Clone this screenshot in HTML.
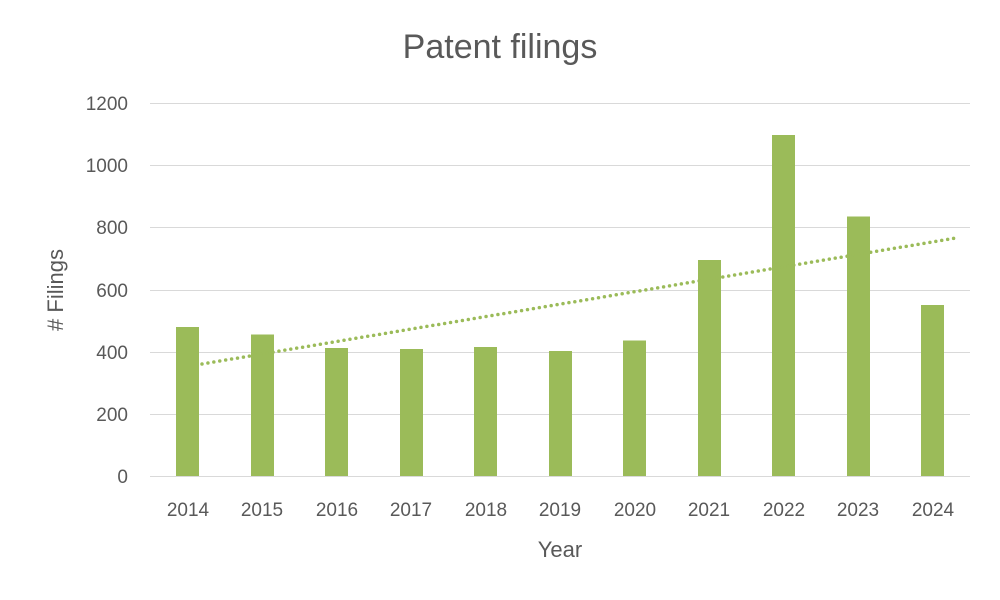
<!DOCTYPE html>
<html><head><meta charset="utf-8"><style>
html,body{margin:0;padding:0;background:#fff;}
svg{display:block;}
text{font-family:"Liberation Sans",sans-serif;fill:#595959;}
</style></head><body>
<svg width="1000" height="600" viewBox="0 0 1000 600" xmlns="http://www.w3.org/2000/svg">
<rect width="1000" height="600" fill="#fff"/>
<text x="500" y="58" font-size="34" text-anchor="middle">Patent filings</text>
<g stroke="#d9d9d9" stroke-width="1">
<line x1="150" x2="970" y1="103.5" y2="103.5"/>
<line x1="150" x2="970" y1="165.5" y2="165.5"/>
<line x1="150" x2="970" y1="227.5" y2="227.5"/>
<line x1="150" x2="970" y1="290.5" y2="290.5"/>
<line x1="150" x2="970" y1="352.5" y2="352.5"/>
<line x1="150" x2="970" y1="414.5" y2="414.5"/>
<line x1="150" x2="970" y1="476.5" y2="476.5"/>
</g>
<g font-size="19" text-anchor="end">
<text x="128" y="110">1200</text>
<text x="128" y="172">1000</text>
<text x="128" y="234">800</text>
<text x="128" y="297">600</text>
<text x="128" y="359">400</text>
<text x="128" y="421">200</text>
<text x="128" y="483">0</text>
</g>
<g fill="#9bbb59">
<rect x="176" y="327" width="23" height="149"/>
<rect x="251" y="334.5" width="23" height="141.5"/>
<rect x="325" y="348" width="23" height="128"/>
<rect x="400" y="349" width="23" height="127"/>
<rect x="474" y="347" width="23" height="129"/>
<rect x="549" y="351" width="23" height="125"/>
<rect x="623" y="340.5" width="23" height="135.5"/>
<rect x="698" y="260" width="23" height="216"/>
<rect x="772" y="135" width="23" height="341"/>
<rect x="847" y="216.5" width="23" height="259.5"/>
<rect x="921" y="305" width="23" height="171"/>
</g>
<line x1="202" y1="364" x2="956" y2="238" stroke="#9bbb59" stroke-width="3.5" stroke-dasharray="0,6" stroke-linecap="round"/>
<g font-size="19" text-anchor="middle">
<text x="188" y="516">2014</text>
<text x="262" y="516">2015</text>
<text x="337" y="516">2016</text>
<text x="411" y="516">2017</text>
<text x="486" y="516">2018</text>
<text x="560" y="516">2019</text>
<text x="635" y="516">2020</text>
<text x="709" y="516">2021</text>
<text x="784" y="516">2022</text>
<text x="858" y="516">2023</text>
<text x="933" y="516">2024</text>
</g>
<text x="560" y="557" font-size="22" text-anchor="middle">Year</text>
<text transform="translate(63,290) rotate(-90)" font-size="22" text-anchor="middle"># Filings</text>
</svg>
</body></html>
